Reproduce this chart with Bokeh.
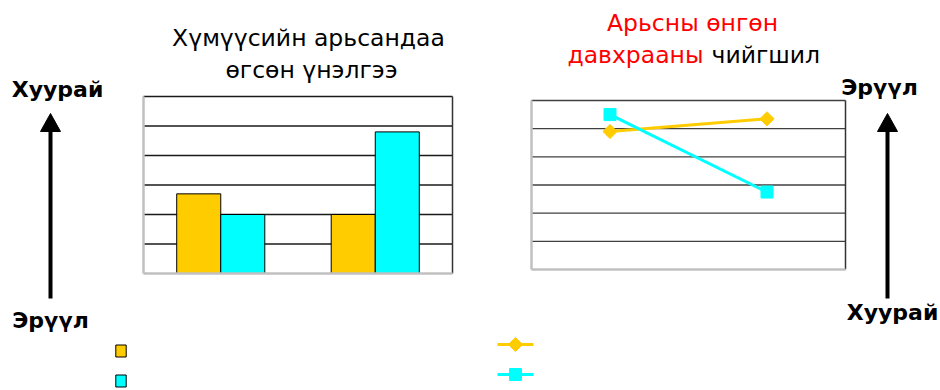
from math import pi
from bokeh.plotting import figure
from bokeh.layouts import row
from bokeh.models import (ColumnDataSource, Range1d, Label, Legend, LegendItem)
from bokeh.transform import dodge
from bokeh.embed import file_html
from bokeh.resources import INLINE

# ---------------- data ----------------
categories = ["1", "2"]
y_ticks = [0, 1, 2, 3, 4, 5, 6]

bar_orange = [2.7, 2.0]
bar_cyan = [2.0, 4.8]

line_orange = [4.9, 5.35]
line_cyan = [5.5, 2.75]

left_title = ["Хүмүүсийн арьсандаа", "өгсөн үнэлгээ"]
right_title_red1 = "Арьсны өнгөн"
right_title_red2 = "давхрааны"
right_title_black = "чийгшил"
label_dry = "Хуурай"
label_healthy = "Эрүүл"

ORANGE = "#FFCC00"
CYAN = "#00FFFF"
FONT = "DejaVu Sans"
W, H = 470, 390
DY = -8  # text baseline correction


def base_fig(L, R, T, B, grid_color):
    """Figure whose frame is the whole canvas; the chart lives on extra ranges
    mapped onto the plot box (L, R, T, B) given in canvas pixels."""
    p = figure(width=W, height=H, x_range=Range1d(0, W), y_range=Range1d(H, 0),
               x_axis_type=None, y_axis_type=None, output_backend="svg",
               toolbar_location=None, title=None, min_border=0)
    p.frame_align = False
    p.outline_line_color = None
    p.background_fill_color = "white"
    p.border_fill_color = "white"
    n = len(categories)
    sx = n / (R - L)
    ymin, ymax = y_ticks[0], y_ticks[-1]
    sy = (ymax - ymin) / (B - T)
    p.extra_x_ranges = {"c": Range1d(-L * sx, n + (W - R) * sx)}
    p.extra_y_ranges = {"c": Range1d(ymin - (H - B) * sy, ymax + T * sy)}
    kw = dict(x_range_name="c", y_range_name="c")
    # horizontal grid lines
    p.segment(x0=0, x1=n, y0=y_ticks[1:], y1=y_ticks[1:], line_color=grid_color,
              line_width=1.3, **kw)
    p._kw = kw
    p._n = n
    return p


def frame_edges(p, dark):
    kw, n = p._kw, p._n
    ymin, ymax = y_ticks[0], y_ticks[-1]
    p.segment(x0=[n], x1=[n], y0=[ymin], y1=[ymax], line_color=dark, line_width=1.5, **kw)
    p.segment(x0=[0, 0], x1=[0, n], y0=[ymin, ymin], y1=[ymax, ymin],
              line_color="#C0C0C0", line_width=2.5, **kw)


def add_text(p, x, y, text, size, bold=False, color="black", align="center"):
    p.add_layout(Label(x=x, y=y + DY, text=text, text_font=FONT, text_font_size=f"{size}px",
                       text_font_style="bold" if bold else "normal",
                       text_color=color, text_align=align, text_baseline="alphabetic"))


def add_arrow(p, x, y_tail, y_tip, head_w=20, head_l=18):
    p.segment(x0=[x], x1=[x], y0=[y_tail], y1=[y_tip + head_l - 1], line_color="black",
              line_width=4)
    p.patch(x=[x, x - head_w / 2, x + head_w / 2], y=[y_tip, y_tip + head_l, y_tip + head_l],
            fill_color="black", line_color="black", line_width=1)


# ---------------- left chart: bars ----------------
p1 = base_fig(143, 452, 96, 273, "#1a1a1a")
xpos = [i + 0.5 for i in range(len(categories))]
src1 = ColumnDataSource(dict(x=xpos, orange=bar_orange, cyan=bar_cyan))
r_o = p1.vbar(x=dodge("x", -0.1425), top="orange", width=0.285, source=src1,
              fill_color=ORANGE, line_color="black", line_width=1, **p1._kw)
r_c = p1.vbar(x=dodge("x", 0.1425), top="cyan", width=0.285, source=src1,
              fill_color=CYAN, line_color="black", line_width=1, **p1._kw)
frame_edges(p1, "#333333")
leg1 = Legend(items=[LegendItem(label=" ", renderers=[r_o]), LegendItem(label=" ", renderers=[r_c])],
              location=(114, 2), glyph_width=13, glyph_height=15, label_height=15,
              label_width=5, spacing=15, padding=0, margin=0, border_line_color=None,
              background_fill_alpha=0, label_standoff=0)
p1.add_layout(leg1)

add_text(p1, 308, 45, left_title[0], 23.5)
add_text(p1, 311, 77, left_title[1], 23.5)
add_text(p1, 57, 97, label_dry, 22, bold=True)
add_text(p1, 50, 328, label_healthy, 22, bold=True)
add_arrow(p1, 50, 298, 113)

# ---------------- right chart: lines ----------------
p2 = base_fig(61, 375, 100, 269, "#404040")
src2 = ColumnDataSource(dict(x=xpos, orange=line_orange, cyan=line_cyan))
lo = p2.line(x="x", y="orange", source=src2, line_color=ORANGE, line_width=3, **p2._kw)
lc = p2.line(x="x", y="cyan", source=src2, line_color=CYAN, line_width=3, **p2._kw)
so = p2.scatter(x="x", y="orange", source=src2, marker="square", angle=pi / 4, size=10,
                fill_color=ORANGE, line_color=ORANGE, **p2._kw)
sc = p2.scatter(x="x", y="cyan", source=src2, marker="square", size=12,
                fill_color=CYAN, line_color=CYAN, **p2._kw)
frame_edges(p2, "#333333")

# legend swatches (line + marker), drawn in canvas-pixel coordinates
sw_x0, sw_x1, sw_y = 27, 63, [344, 374]
sw_xm = (sw_x0 + sw_x1) / 2
p2.segment(x0=sw_x0, x1=sw_x1, y0=sw_y, y1=sw_y, line_color=[ORANGE, CYAN], line_width=3)
p2.scatter(x=[sw_xm], y=[sw_y[0]], marker="square", angle=pi / 4, size=10,
           fill_color=ORANGE, line_color=ORANGE)
p2.scatter(x=[sw_xm], y=[sw_y[1]], marker="square", size=12, fill_color=CYAN, line_color=CYAN)

add_text(p2, 222, 30, right_title_red1, 23.5, color="#FF0000")
add_text(p2, 233, 62, right_title_red2, 23.5, color="#FF0000", align="right")
add_text(p2, 241, 62, right_title_black, 23.5, align="left")
add_text(p2, 409, 95, label_healthy, 22, bold=True)
add_text(p2, 422, 320, label_dry, 22, bold=True)
add_arrow(p2, 417, 298, 113)

layout = row(p1, p2, spacing=0)
open("out.html", "w").write(file_html(layout, INLINE))
